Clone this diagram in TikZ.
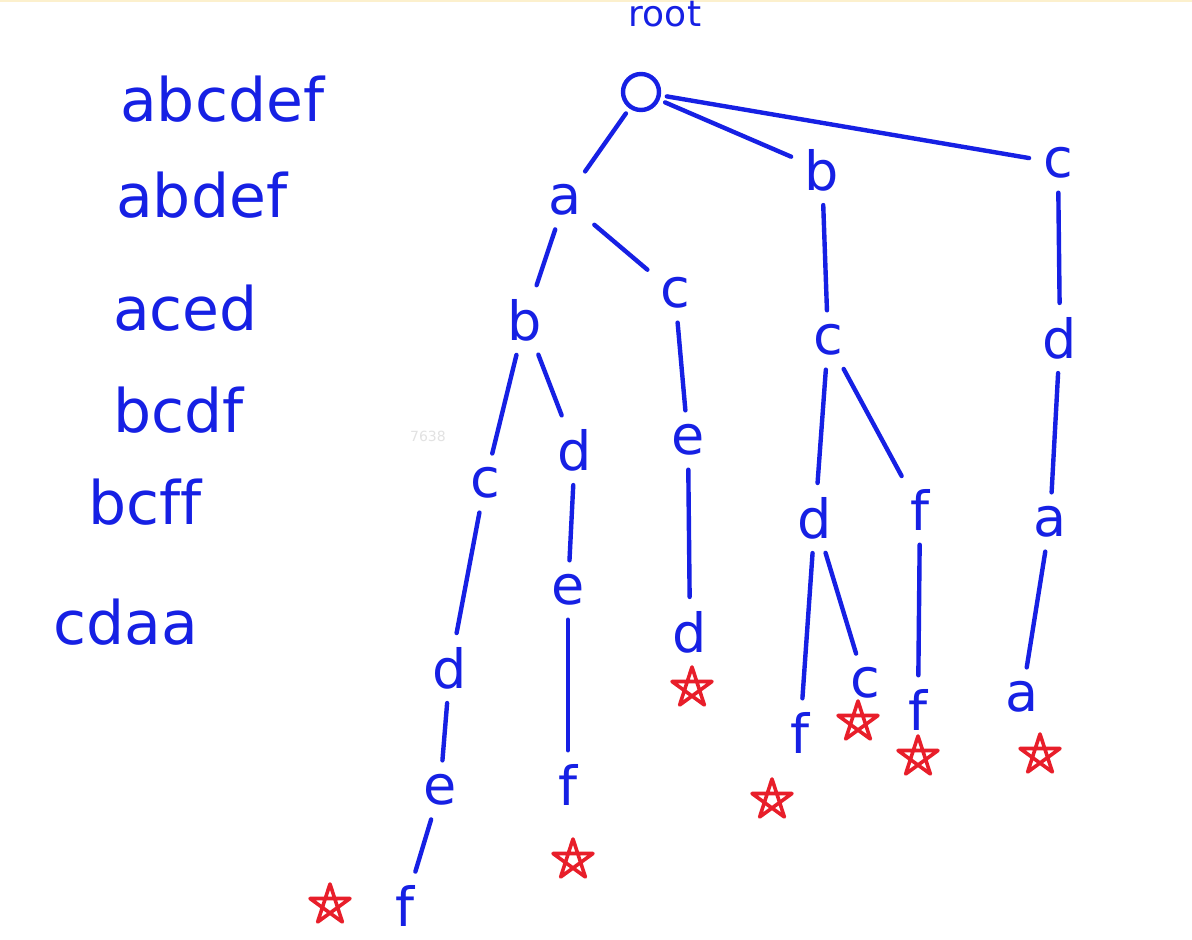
\documentclass[tikz,border=0pt]{standalone}
\usepackage{fontspec}
\setmainfont[Ligatures=NoCommon]{DejaVu Sans}
\definecolor{ink}{RGB}{22,32,228}
\definecolor{starred}{RGB}{232,30,42}
\definecolor{faint}{RGB}{226,226,226}
\definecolor{edgetint}{RGB}{252,240,205}
\begin{document}
\begin{tikzpicture}[x=1pt,y=-1pt,
  letter/.style={text=ink,font=\fontsize{54}{64}\selectfont,inner sep=8pt},
  word/.style={text=ink,font=\fontsize{60}{70}\selectfont,inner sep=0pt,anchor=base west},
  edge/.style={draw=ink,line width=4.4pt,line cap=round,shorten <=6pt,shorten >=6pt},
  goal/.pic={\draw[draw=starred,line width=3.6pt,line join=round]
      (-90:21)--(54:21)--(198:21)--(-18:21)--(126:21)--cycle;}]
\useasboundingbox (0,0) rectangle (1192,940);
\fill[white] (0,0) rectangle (1192,940);
\fill[edgetint] (0,0) rectangle (1192,2);

% word list
\node[word] (w1) at (120,121) {abcdef};
\node[word] (w2) at (116,217) {abdef};
\node[word] (w3) at (113,330) {aced};
\node[word] (w4) at (113,432) {bcdf};
\node[word] (w5) at (88,524) {bcf\kern0ptf};
\node[word] (w6) at (53,644) {cdaa};
\node[text=faint,font=\fontsize{14}{16}\selectfont] (wm) at (428,436) {7638};

% root
\node[text=ink,font=\fontsize{36}{42}\selectfont,anchor=base] (rootlbl) at (665,26) {root};
\node[draw=ink,line width=4.4pt,ellipse/.try,circle,minimum size=36pt,inner sep=0pt] (root) at (641,92) {};

% trie letters
\node[letter] (a1) at (565,200) {a};
\node[letter] (b1) at (822,170) {b};
\node[letter] (c1) at (1058,163) {c};
\node[letter] (ab) at (525,320) {b};
\node[letter] (ac) at (675,293) {c};
\node[letter] (bc) at (828,340) {c};
\node[letter] (cd) at (1060,338) {d};
\node[letter] (abc) at (485,483) {c};
\node[letter] (abd) at (575,450) {d};
\node[letter] (ace) at (688,440) {e};
\node[letter] (bcd) at (815,518) {d};
\node[letter] (bcf) at (920,510) {f};
\node[letter] (cda) at (1050,522) {a};
\node[letter] (abcd) at (450,668) {d};
\node[letter] (abde) at (568,590) {e};
\node[letter] (aced) at (690,632) {d};
\node[letter] (bcdf) at (800,733) {f};
\node[letter] (bcdc) at (865,683) {c};
\node[letter] (bcff) at (918,710) {f};
\node[letter] (cdaa) at (1022,697) {a};
\node[letter] (abcde) at (440,790) {e};
\node[letter] (abdef) at (568,785) {f};
\node[letter] (abcdef) at (405,906) {f};

% connectors
\draw[edge] (root) -- (a1);
\draw[edge] (root) -- (b1);
\draw[edge] (root) -- (c1);
\draw[edge] (a1) -- (ab);
\draw[edge] (a1) -- (ac);
\draw[edge] (b1) -- (bc);
\draw[edge] (c1) -- (cd);
\draw[edge] (ab) -- (abc);
\draw[edge] (ab) -- (abd);
\draw[edge] (ac) -- (ace);
\draw[edge] (bc) -- (bcd);
\draw[edge] (bc) -- (bcf);
\draw[edge] (cd) -- (cda);
\draw[edge] (abc) -- (abcd);
\draw[edge] (abd) -- (abde);
\draw[edge] (ace) -- (aced);
\draw[edge] (bcd) -- (bcdf);
\draw[edge] (bcd) -- (bcdc);
\draw[edge] (bcf) -- (bcff);
\draw[edge] (cda) -- (cdaa);
\draw[edge] (abcd) -- (abcde);
\draw[edge] (abde) -- (abdef);
\draw[edge] (abcde) -- (abcdef);

% end-of-word marks
\pic (m1) at (330,905) {goal};
\pic (m2) at (573,860) {goal};
\pic (m3) at (692,688) {goal};
\pic (m4) at (772,800) {goal};
\pic (m5) at (858,722) {goal};
\pic (m6) at (918,757) {goal};
\pic (m7) at (1040,755) {goal};
\end{tikzpicture}
\end{document}
